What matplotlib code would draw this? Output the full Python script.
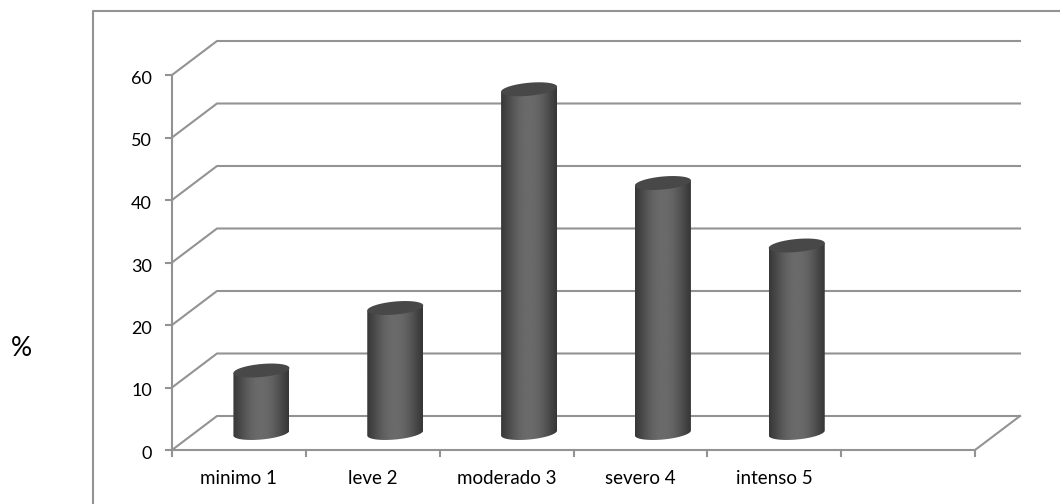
import numpy as np
import matplotlib
matplotlib.use('Agg')
import matplotlib.pyplot as plt
from matplotlib.patches import PathPatch
from matplotlib.path import Path

categories = ['minimo 1', 'leve 2', 'moderado 3', 'severo 4', 'intenso 5']
values = [10, 20, 55, 40, 30]
y_ticks = [0, 10, 20, 30, 40, 50, 60]
n_slots = 6

# pixel layout of the fake 3d box
W, H = 1060, 504
x0_px, x1_px = 172, 975
y0_px, y60_px = 450, 75
px_x = (x1_px - x0_px) / n_slots
px_y = (y0_px - y60_px) / 60
dx = 45 / px_x
dy = 34 / px_y
grid_col = '#939393'

plt.rcParams['font.family'] = ['Lato', 'DejaVu Sans']
fig = plt.figure(figsize=(W / 100, H / 100), dpi=100)
ax = fig.add_axes([0, 0, 1, 1])
ax.axis('off')


def xp(px):
    return (px - x0_px) / px_x


def yp(px):
    return (y0_px - px) / px_y


# outer frame (cropped right and bottom)
ax.plot([xp(93), xp(93), xp(1060)], [yp(504), yp(11), yp(11)], color=grid_col, lw=1.5)

# walls and grid
for v in y_ticks:
    ax.plot([0, dx, n_slots + dx], [v, v + dy, v + dy], color=grid_col, lw=1.5, zorder=1)
    ax.plot([-6 / px_x, 0], [v, v], color=grid_col, lw=1.5, zorder=1)
    ax.text(xp(152), v - 4 / px_y, str(v), ha='right', va='center', fontsize=13, color='black')
ax.plot([0, 0], [0, 60], color=grid_col, lw=1.5, zorder=1)
ax.plot([0, n_slots, n_slots + dx], [0, 0, dy], color=grid_col, lw=1.5, zorder=1)
for i in range(n_slots + 1):
    ax.plot([i, i], [0, -6 / px_y], color=grid_col, lw=1.5, zorder=1)

# gradient used for the cylinder bodies
ramp = np.array([0.22, 0.27, 0.33, 0.38, 0.41, 0.42, 0.41, 0.38, 0.33, 0.27, 0.21])
xs = np.linspace(0, 1, 200)
shade = np.interp(xs, np.linspace(0, 1, len(ramp)), ramp)[None, :]

half_w = 28 / px_x
half_h = 6.5 / px_y
tilt = 2.5 / px_y
t = np.linspace(0, 2 * np.pi, 120)

for i, (name, val) in enumerate(zip(categories, values)):
    cx = i + 0.5 + dx / 2
    base = dy / 2
    top = base + val
    ex = half_w * np.cos(t)
    ey = half_h * np.sin(t) + tilt * np.cos(t)
    lower = t[(t >= np.pi)]
    bx = cx + half_w * np.cos(lower)
    by = base + half_h * np.sin(lower) + tilt * np.cos(lower)
    outline = np.column_stack([
        np.r_[cx - half_w, bx, cx + half_w, cx - half_w],
        np.r_[top - tilt, by, top + tilt, top - tilt],
    ])
    clip = PathPatch(Path(outline), transform=ax.transData, fc='none', ec='none')
    ax.add_patch(clip)
    im = ax.imshow(shade, cmap='gray', vmin=0, vmax=1, aspect='auto', zorder=3,
                   extent=[cx - half_w, cx + half_w, base - 2 * half_h, top + 2 * half_h],
                   interpolation='bilinear')
    im.set_clip_path(clip)
    ax.fill(cx + ex, top + ey, color='#484848', zorder=4, lw=0)
    ax.text(i + 0.5, yp(479), name, ha='center', va='center', fontsize=13.5, color='black')

ax.set_xlim(-x0_px / px_x, (W - x0_px) / px_x)
ax.set_ylim(-(H - y0_px) / px_y, y0_px / px_y)
ax.text(xp(21), yp(348), '%', ha='center', va='center', fontsize=19, color='black')

fig.savefig('out.png', dpi=100)
